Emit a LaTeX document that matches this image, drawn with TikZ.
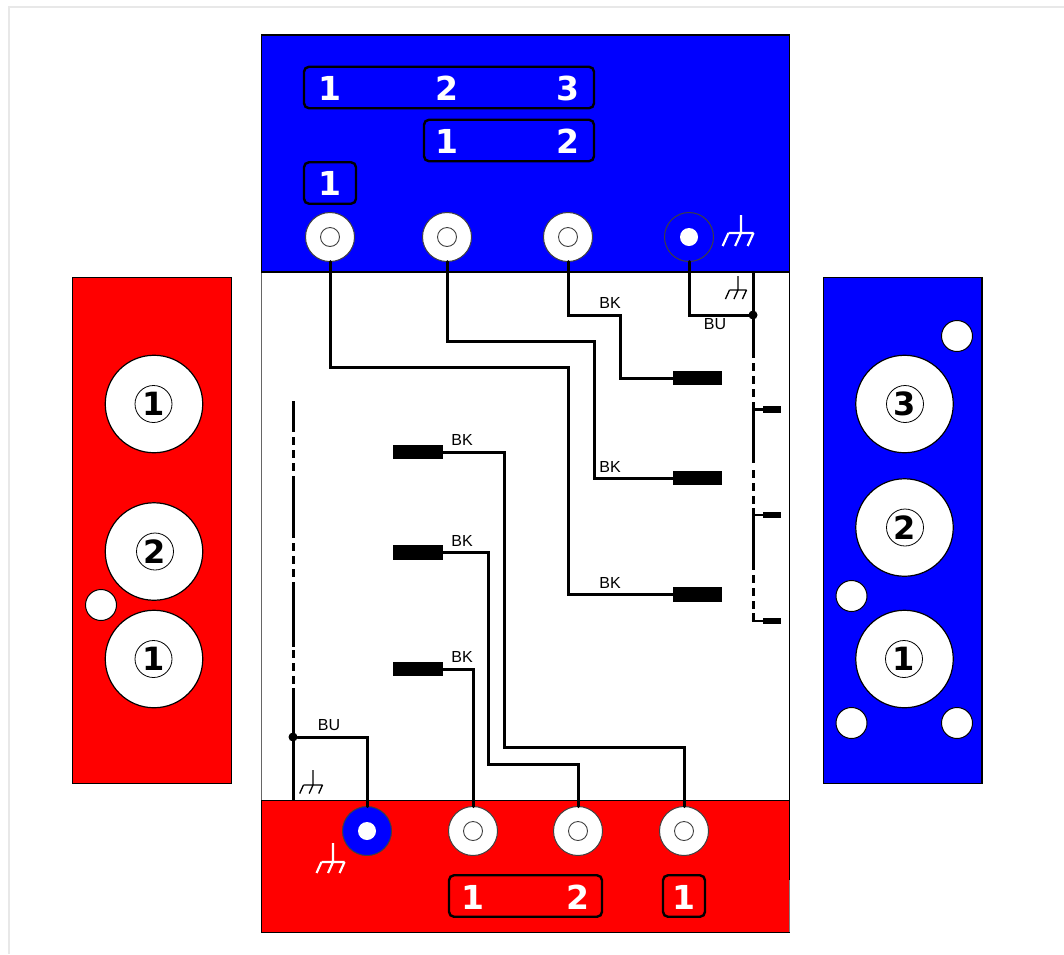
\documentclass[tikz,border=0pt]{standalone}
\usepackage{fontspec}
\setmainfont{Liberation Sans}
\newfontfamily\digitfont{DejaVu Sans}
\definecolor{pblue}{RGB}{0,0,255}
\definecolor{pred}{RGB}{255,0,0}
\definecolor{framegray}{RGB}{232,232,232}
\newcommand{\gndsym}[6]{% x, y(top), stem, half width, leg, style
  \draw[#6] (#1,#2) -- ++(0,#3)
    (#1-#4,#2+#3) -- (#1+#4,#2+#3)
    (#1-#4,#2+#3) -- ++(-#5*0.45,#5)
    (#1,#2+#3) -- ++(-#5*0.45,#5)
    (#1+#4,#2+#3) -- ++(-#5*0.45,#5);}
\tikzset{
  x=1pt,y=-1pt,
  panel/.style={draw=black,line width=1.3pt},
  wire/.style={draw=black,line width=3pt,line cap=round,line join=miter},
  busdash/.style={wire,line cap=butt,dash pattern=on 7.5pt off 5.5pt},
  bussolid/.style={wire,line cap=butt},
  pinouter/.style={circle,draw=black!75,line width=1pt,fill=white,minimum size=49pt,inner sep=0pt,outer sep=0pt},
  pinblue/.style={pinouter,fill=pblue},
  pinhole/.style={circle,draw=black!75,line width=0.9pt,fill=white,minimum size=19pt,inner sep=0pt,outer sep=0pt},
  pindot/.style={circle,draw=none,fill=white,minimum size=18pt,inner sep=0pt,outer sep=0pt},
  bigplug/.style={rectangle,fill=black,draw=none,minimum width=49pt,minimum height=14.5pt,inner sep=0pt,outer sep=0pt},
  smallplug/.style={rectangle,fill=black,draw=none,minimum width=18pt,minimum height=6.5pt,inner sep=0pt,outer sep=0pt},
  junction/.style={circle,fill=black,draw=none,minimum size=9pt,inner sep=0pt,outer sep=0pt},
  labelbox/.style={rectangle,rounded corners=5pt,draw=black,line width=2.4pt,inner sep=0pt,outer sep=0pt,minimum height=41.5pt},
  whitenum/.style={text=white,inner sep=0pt,font=\digitfont\bfseries\fontsize{33}{33}\selectfont},
  bigcircle/.style={circle,draw=black,line width=1.2pt,fill=white,minimum size=97.5pt,inner sep=0pt,outer sep=0pt},
  circnum/.style={circle,draw=black,line width=0.8pt,fill=white,minimum size=37pt,inner sep=0pt,outer sep=0pt,text=black,font=\digitfont\bfseries\fontsize{32}{32}\selectfont},
  smallhole/.style={circle,draw=black,line width=1pt,fill=white,minimum size=31pt,inner sep=0pt,outer sep=0pt},
  wirelabel/.style={text=black,inner sep=0pt,font=\fontsize{16}{16}\selectfont},
  gndblack/.style={draw=black,line width=1.3pt},
  gndwhite/.style={draw=white,line width=2.2pt},
}
\begin{document}
\begin{tikzpicture}
\useasboundingbox (0,0) rectangle (1064,954);
\fill[white] (0,0) rectangle (1064,954);
% outer frame
\draw[framegray,line width=2pt] (8.5,954) -- (8.5,7) -- (1064,7);
% side panels
\draw[panel,fill=pred] (72.8,277.8) rectangle (231.3,783.5);
\draw[panel,fill=pblue] (823.6,277.8) rectangle (982,783.5);
% main panels
\draw[draw=black!60,line width=1.3pt,fill=white] (261.7,272) rectangle (789.5,800.5);
\draw[panel,fill=pblue] (261.7,35) rectangle (789.5,272);
\draw[draw=black!50,line width=1.3pt,fill=pred] (261.7,800.5) rectangle (789.5,932.5);
\draw[black,line width=1.3pt] (789.5,880) -- (789.5,272) (261.7,272) -- (789.5,272);
\draw[black,line width=1.3pt] (789.5,800.5) -- (261.7,800.5) -- (261.7,932.5) -- (789.5,932.5);
% top label boxes
\node[labelbox,minimum width=290pt] (tb1) at (449,87.5) {};
\node[labelbox,minimum width=170pt] (tb2) at (509,140.5) {};
\node[labelbox,minimum width=52pt] (tb3) at (330,183) {};
\node[whitenum] (t11) at (329.5,88.5) {1};
\node[whitenum] (t12) at (447,88.5) {2};
\node[whitenum] (t13) at (568,88.5) {3};
\node[whitenum] (t21) at (447,141.5) {1};
\node[whitenum] (t22) at (568,141.5) {2};
\node[whitenum] (t31) at (329.5,183.5) {1};
% bottom label boxes
\node[labelbox,minimum width=153pt] (bb1) at (525.5,896) {};
\node[labelbox,minimum width=42pt] (bb2) at (684,896) {};
\node[whitenum] (b11) at (473,897) {1};
\node[whitenum] (b12) at (578,897) {2};
\node[whitenum] (b21) at (684,897) {1};
% top pins
\node[pinouter] (tp1) at (330,237) {};
\node[pinouter] (tp2) at (447,237) {};
\node[pinouter] (tp3) at (568,237) {};
\node[pinblue] (tp4) at (689,237) {};
\node[pinhole] (th1) at (330,237) {};
\node[pinhole] (th2) at (447,237) {};
\node[pinhole] (th3) at (568,237) {};
\node[pindot] (th4) at (689,237) {};
% bottom pins
\node[pinblue] (bp1) at (367,831) {};
\node[pinouter] (bp2) at (473,831) {};
\node[pinouter] (bp3) at (578,831) {};
\node[pinouter] (bp4) at (684,831) {};
\node[pindot] (bh1) at (367,831) {};
\node[pinhole] (bh2) at (473,831) {};
\node[pinhole] (bh3) at (578,831) {};
\node[pinhole] (bh4) at (684,831) {};
% left panel
\node[bigcircle] (l1) at (154,404) {};
\node[bigcircle] (l2) at (154,551.5) {};
\node[bigcircle] (l3) at (154,659) {};
\node[circnum] (ln1) at (153.5,404) {1};
\node[circnum] (ln2) at (155,551.5) {2};
\node[circnum] (ln3) at (153.5,659) {1};
\node[smallhole] (lh) at (101,605) {};
% right panel
\node[bigcircle] (r1) at (904.5,404) {};
\node[bigcircle] (r2) at (904.5,527.5) {};
\node[bigcircle] (r3) at (904.5,659) {};
\node[circnum] (rn1) at (905,404) {3};
\node[circnum] (rn2) at (905,527.5) {2};
\node[circnum] (rn3) at (904,659) {1};
\node[smallhole] (rh1) at (957,336) {};
\node[smallhole] (rh2) at (851.5,596) {};
\node[smallhole] (rh3) at (851.5,723) {};
\node[smallhole] (rh4) at (957,723) {};
% plugs
\node[bigplug] (pr1) at (697,378) {};
\node[bigplug] (pr2) at (697,478) {};
\node[bigplug] (pr3) at (697,594.5) {};
\node[bigplug,minimum width=50pt] (pl1) at (417.5,452) {};
\node[bigplug,minimum width=50pt] (pl2) at (417.5,552.5) {};
\node[bigplug,minimum width=50pt] (pl3) at (417.5,669) {};
\node[smallplug] (s1) at (771.5,409.5) {};
\node[smallplug] (s2) at (771.5,515) {};
\node[smallplug] (s3) at (771.5,621) {};
% junctions and bus ends
\node[junction] (jr) at (753,315) {};
\node[junction] (jl) at (293,737) {};
\coordinate (rtop) at (753,272);
\coordinate (rs1) at (753,409.5);
\coordinate (rs2) at (753,515);
\coordinate (rs3) at (753,621);
\coordinate (lbot) at (293,800);
\coordinate (ltop) at (293,401);
% wires
\draw[wire] (tp1.south) -- (330,367) -- (568,367) -- (568,594.5) -- (pr3.west);
\draw[wire] (tp2.south) -- (447,341) -- (594,341) -- (594,478) -- (pr2.west);
\draw[wire] (tp3.south) -- (568,315) -- (620,315) -- (620,378) -- (pr1.west);
\draw[wire] (tp4.south) -- (689,315) -- (jr);
\draw[wire] (pl1.east) -- (504,452) -- (504,747) -- (684,747) -- (bp4.north);
\draw[wire] (pl2.east) -- (488,552.5) -- (488,764) -- (578,764) -- (bp3.north);
\draw[wire] (pl3.east) -| (bp2.north);
\draw[wire] (jl) -- (367,737) -- (bp1.north);
% right bus
\draw[bussolid] (rtop) -- (753,358);
\draw[busdash] (753,363) -- (753,398);
\draw[bussolid] (753,402) -- (753,463);
\draw[busdash] (753,470) -- (753,504);
\draw[bussolid] (753,508) -- (753,570);
\draw[busdash] (753,575) -- (753,610);
\draw[bussolid] (753,613) -- (rs3);
\draw[wire,line width=2.2pt,line cap=butt] (rs1) -- (s1.west);
\draw[wire,line width=2.2pt,line cap=butt] (rs2) -- (s2.west);
\draw[wire,line width=2.2pt,line cap=butt] (751.5,621) -- (s3.west);
% left bus
\draw[bussolid] (ltop) -- (293,432);
\draw[busdash] (293,437) -- (293,471);
\draw[bussolid] (293,476) -- (293,538);
\draw[busdash] (293,543) -- (293,577);
\draw[bussolid] (293,582) -- (293,647);
\draw[busdash] (293,650) -- (293,684);
\draw[bussolid] (293,688) -- (lbot);
% wire labels
\node[wirelabel] (lb1) at (610,303) {BK};
\node[wirelabel] (lb2) at (610,467) {BK};
\node[wirelabel] (lb3) at (610,583) {BK};
\node[wirelabel] (lb4) at (462,440) {BK};
\node[wirelabel] (lb5) at (462,541) {BK};
\node[wirelabel] (lb6) at (462,657) {BK};
\node[wirelabel] (lu1) at (715,324) {BU};
\node[wirelabel] (lu2) at (329,725) {BU};
% grounds
\gndsym{741}{215}{18}{12.5}{13}{gndwhite}
\gndsym{333}{843}{19}{11.5}{11}{gndwhite}
\gndsym{738}{276}{14}{8.5}{9}{gndblack}
\gndsym{313}{770}{15}{9.5}{8.5}{gndblack}
\end{tikzpicture}
\end{document}
